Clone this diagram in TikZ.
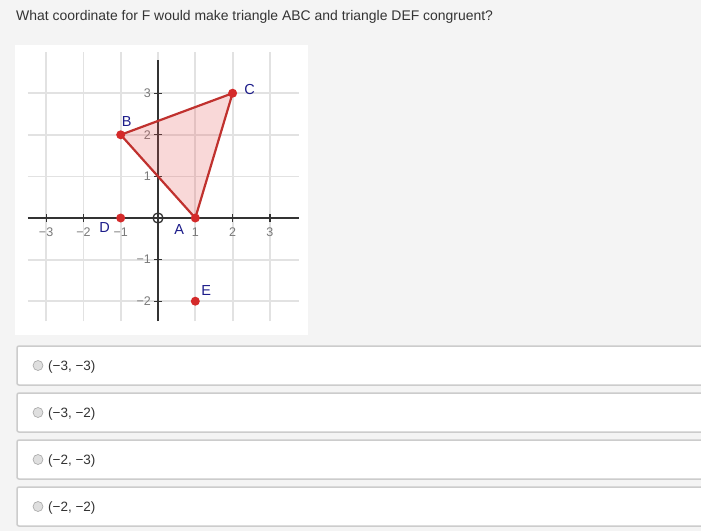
\documentclass[tikz,border=0pt]{standalone}
\usepackage{fontspec}
\setmainfont{Liberation Sans}
\definecolor{pagebg}{HTML}{F4F4F4}
\definecolor{gridc}{HTML}{E2E2E2}
\definecolor{axisc}{HTML}{333333}
\definecolor{tickc}{HTML}{7A7A7A}
\definecolor{triline}{HTML}{C0312E}
\definecolor{trifill}{HTML}{E85050}
\definecolor{dotc}{HTML}{D42A2A}
\definecolor{labc}{HTML}{1C1C8A}
\definecolor{boxline}{HTML}{CCCCCC}
\definecolor{textc}{HTML}{333333}
\tikzset{
  gridline/.style={draw=gridc, line width=1.8pt},
  axisline/.style={draw=axisc, line width=1.6pt},
  ticklab/.style={text=tickc, font=\fontsize{12.5}{13}\selectfont, inner sep=0pt},
  ptlab/.style={text=labc, font=\fontsize{14.5}{15}\selectfont, inner sep=0pt},
  dot/.style={circle, fill=dotc, minimum size=9pt, inner sep=0pt},
  choicebox/.style={draw=boxline, fill=white, line width=1.5pt, rounded corners=2pt},
  radio/.style={circle, draw=gray!70, fill=gray!25, line width=0.6pt, minimum size=10pt, inner sep=0pt},
  choicetext/.style={text=textc, font=\fontsize{13.5}{15}\selectfont, inner sep=0pt, anchor=west}
}
\begin{document}
\begin{tikzpicture}[x=1pt,y=-1pt]
\useasboundingbox (0,0) rectangle (701,531);
\fill[pagebg] (0,0) rectangle (701,531);
\node[text=textc, font=\fontsize{13.95}{16}\selectfont, anchor=west, inner sep=0pt] (title) at (16,17) {What coordinate for F would make triangle ABC and triangle DEF congruent?};
% graph panel
\fill[white] (15,45) rectangle (308,335);
\begin{scope}[shift={(158,218)}, x=37.3pt, y=41.6pt]
  \foreach \i in {-3,...,3} \draw[gridline] (\i,-2.48) -- (\i,3.99);
  \foreach \j in {-2,...,3} \draw[gridline] (-3.49,\j) -- (3.78,\j);
  \coordinate (xl) at (-3.49,0); \coordinate (xr) at (3.78,0);
  \coordinate (yb) at (0,-2.48); \coordinate (yt) at (0,3.8);
  \draw[axisline] (xl) -- (xr);
  \draw[axisline] (yb) -- (yt);
  \foreach \i in {-3,-2,-1,1,2,3} \draw[axisc, line width=1.2pt] (\i,0) ++(0,-4pt) -- ++(0,8pt);
  \foreach \j in {-2,-1,1,2,3} \draw[axisc, line width=1.2pt] (0,\j) ++(-4pt,0) -- ++(8pt,0);
  \foreach \i/\t in {-3/{−3},-2/{−2},-1/{−1},1/1,2/2,3/3}
    \node[ticklab] (xt\i) at ([yshift=-14pt]\i,0) {\t};
  \foreach \j/\t in {-2/{−2},-1/{−1},1/1,2/2,3/3}
    \node[ticklab, anchor=east] (yt\j) at ([xshift=-7pt]0,\j) {\t};
  \node[circle, draw=axisc, fill=white, line width=1.3pt, minimum size=10pt, inner sep=0pt] (O) at (0,0) {};
  \draw[axisc, line width=1.3pt] (O.west) -- (O.east) (O.north) -- (O.south);
  \coordinate (A) at (1,0);
  \coordinate (B) at (-1,2);
  \coordinate (C) at (2,3);
  \coordinate (D) at (-1,0);
  \coordinate (E) at (1,-2);
  \fill[trifill, fill opacity=0.22] (A) -- (B) -- (C) -- cycle;
  \draw[triline, line width=2.2pt, line join=round] (A) -- (B) -- (C) -- cycle;
  \foreach \p in {A,B,C,D,E} \node[dot] (d\p) at (\p) {};
  \node[ptlab] (lA) at ([xshift=-16pt,yshift=-12pt]A) {A};
  \node[ptlab] (lB) at ([xshift=6pt,yshift=13pt]B) {B};
  \node[ptlab] (lC) at ([xshift=17pt,yshift=4pt]C) {C};
  \node[ptlab] (lD) at ([xshift=-16pt,yshift=-10pt]D) {D};
  \node[ptlab] (lE) at ([xshift=11pt,yshift=11pt]E) {E};
\end{scope}
% choices
\foreach \k/\t/\y in {1/{(−3, −3)}/346, 2/{(−3, −2)}/393, 3/{(−2, −3)}/440, 4/{(−2, −2)}/487} {
  \draw[choicebox] (17,\y) rectangle (712,\y+39);
  \node[radio] (r\k) at (38,\y+19.5) {};
  \node[choicetext] (c\k) at (48,\y+21) {\t};
}
\end{tikzpicture}
\end{document}
